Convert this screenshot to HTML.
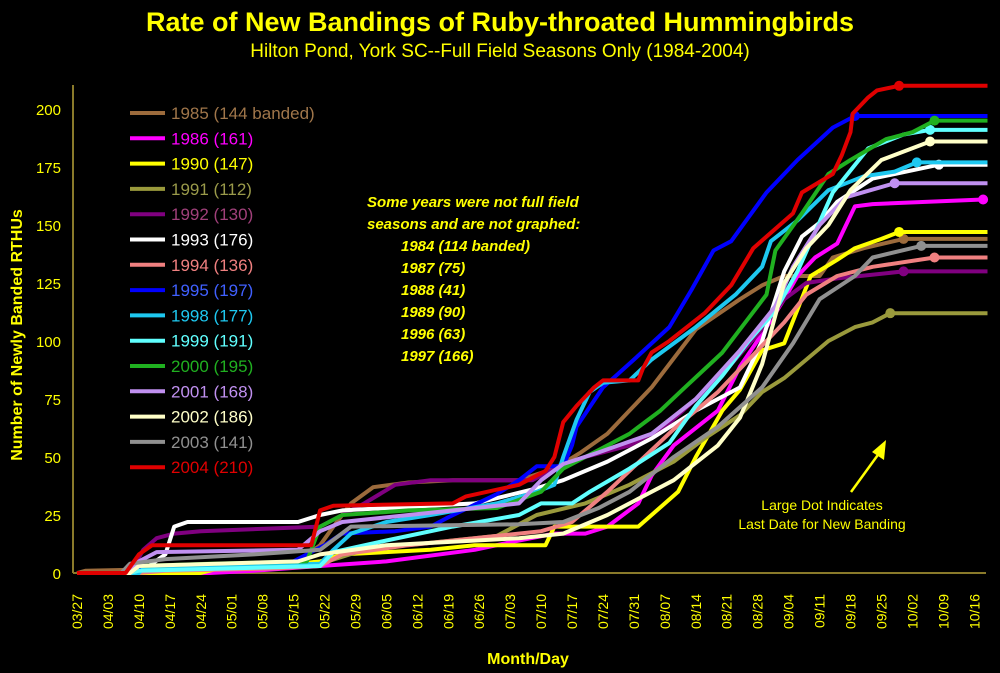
<!DOCTYPE html>
<html><head><meta charset="utf-8"><style>
html,body{margin:0;padding:0;background:#000;}
svg{display:block;font-family:"Comic Sans MS","Liberation Sans",sans-serif;}
</style></head><body>
<svg id="chart" width="1000" height="673" viewBox="0 0 1000 673" xmlns="http://www.w3.org/2000/svg">
<rect width="1000" height="673" fill="#000"/>
<text x="500" y="31" text-anchor="middle" fill="#ffff00" font-size="27" font-weight="bold">Rate of New Bandings of Ruby-throated Hummingbirds</text>
<text x="500" y="57" text-anchor="middle" fill="#ffff00" font-size="19">Hilton Pond, York SC--Full Field Seasons Only (1984-2004)</text>
<text transform="translate(22,335) rotate(-90)" text-anchor="middle" fill="#ffff00" font-size="16" font-weight="bold">Number of Newly Banded RTHUs</text>
<text x="528" y="664" text-anchor="middle" fill="#ffff00" font-size="16" font-weight="bold">Month/Day</text>
<g id="axes"></g>
<g id="series"></g>
<g id="legend"></g>
<g fill="#ffff00" font-size="15" font-weight="bold" font-style="italic">
<text x="367" y="207">Some years were not full field</text>
<text x="367" y="229">seasons and are not graphed:</text>
<text x="401" y="251">1984 (114 banded)</text>
<text x="401" y="273">1987 (75)</text>
<text x="401" y="295">1988 (41)</text>
<text x="401" y="317">1989 (90)</text>
<text x="401" y="339">1996 (63)</text>
<text x="401" y="361">1997 (166)</text>
</g>
<g>
<line x1="851" y1="492" x2="880" y2="452" stroke="#ffff00" stroke-width="2.5"/>
<polygon points="886,440 872,452 884,460" fill="#ffff00"/>
<text x="822" y="510" text-anchor="middle" fill="#ffff00" font-size="14">Large Dot Indicates</text>
<text x="822" y="529" text-anchor="middle" fill="#ffff00" font-size="14">Last Date for New Banding</text>
</g>
</svg>
<script>
const NS='http://www.w3.org/2000/svg';
const yTicks=[0,25,50,75,100,125,150,175,200];
const xTickLabels=['03/27','04/03','04/10','04/17','04/24','05/01','05/08','05/15','05/22','05/29','06/05','06/12','06/19','06/26','07/03','07/10','07/17','07/24','07/31','08/07','08/14','08/21','08/28','09/04','09/11','09/18','09/25','10/02','10/09','10/16'];
const seriesNames=['1985 (144 banded)','1986 (161)','1990 (147)','1991 (112)','1992 (130)','1993 (176)','1994 (136)','1995 (197)','1998 (177)','1999 (191)','2000 (195)','2001 (168)','2002 (186)','2003 (141)','2004 (210)'];
const s1985=[[0,0],[2,1],[30,2],[50,5],[55,12],[58,20],[62,30],[67,37],[75,39],[85,40],[100,40],[108,45],[114,52],[120,60],[130,80],[140,105],[150,118],[155,124],[160,128],[168,128],[171,136],[178,140],[187,144],[206,144]];
const s1986=[[0,0],[30,0],[40,1],[55,3],[70,5],[90,10],[100,14],[108,17],[115,17],[120,20],[127,30],[130,42],[135,55],[145,70],[150,89],[155,103],[160,118],[163,128],[167,136],[172,142],[176,158],[180,159],[205,161]];
const s1990=[[0,0],[28,0],[32,2],[45,3],[55,5],[60,8],[80,10],[90,12],[106,12],[108,20],[127,20],[130,25],[136,35],[140,50],[146,70],[150,79],[155,96],[160,99],[166,128],[172,135],[176,140],[182,144],[186,147],[206,147]];
const s1991=[[0,0],[12,0],[14,1],[40,2],[55,4],[65,10],[80,13],[95,16],[104,25],[115,30],[125,38],[135,48],[142,58],[150,68],[155,78],[160,84],[165,92],[170,100],[176,106],[180,108],[184,112],[206,112]];
const s1992=[[0,0],[12,0],[15,10],[18,15],[22,17],[28,18],[55,20],[65,30],[72,38],[80,40],[103,40],[108,45],[115,50],[125,55],[133,63],[140,75],[148,90],[155,105],[160,118],[165,125],[172,127],[187,130],[206,130]];
const s1993=[[0,0],[14,0],[20,8],[22,20],[25,22],[50,22],[55,25],[60,27],[90,30],[103,36],[110,40],[120,48],[130,58],[140,70],[150,80],[155,100],[160,130],[164,145],[168,151],[172,160],[180,170],[195,176],[206,176]];
const s1994=[[0,0],[14,0],[20,1],[45,2],[55,3],[60,8],[75,12],[95,16],[105,18],[112,22],[120,35],[135,62],[145,78],[152,92],[160,108],[165,120],[172,128],[180,132],[194,136],[206,136]];
const s1995=[[0,0],[13,0],[14,2],[35,3],[48,4],[52,8],[56,12],[60,17],[72,18],[80,20],[84,24],[95,34],[100,40],[104,46],[110,46],[112,55],[113,63],[119,80],[126,92],[134,106],[139,122],[144,139],[148,143],[156,164],[163,178],[171,192],[176,197],[206,197]];
const s1998=[[0,0],[14,0],[15,2],[55,4],[58,10],[62,17],[70,22],[80,25],[95,30],[104,35],[108,38],[110,50],[113,66],[116,78],[119,82],[125,83],[130,92],[140,106],[149,120],[155,132],[157,143],[163,152],[170,165],[178,171],[185,173],[190,177],[206,177]];
const s1999=[[0,0],[12,0],[14,1],[55,3],[58,9],[70,14],[85,20],[100,25],[105,30],[112,30],[116,35],[125,45],[134,56],[140,72],[146,85],[152,100],[158,113],[163,130],[171,164],[179,183],[187,189],[193,191],[206,191]];
const s2000=[[0,0],[12,0],[14,3],[30,4],[52,5],[55,20],[60,25],[75,27],[95,28],[105,35],[110,45],[115,50],[125,60],[132,70],[137,79],[146,95],[152,110],[156,120],[158,139],[164,155],[170,172],[175,178],[183,187],[189,190],[194,195],[206,195]];
const s2001=[[0,0],[12,0],[14,5],[18,9],[50,10],[55,18],[60,22],[80,26],[100,30],[105,40],[110,47],[118,52],[130,60],[140,75],[150,96],[158,115],[162,132],[168,150],[174,162],[185,168],[206,168]];
const s2002=[[0,0],[12,0],[14,3],[50,5],[55,8],[70,12],[100,15],[110,17],[120,25],[135,40],[145,55],[150,67],[155,90],[160,125],[165,140],[170,150],[175,165],[182,178],[193,186],[206,186]];
const s2003=[[0,0],[10,0],[12,4],[20,6],[40,8],[55,10],[62,20],[100,21],[110,22],[118,28],[125,35],[135,50],[145,63],[155,80],[162,99],[168,118],[176,128],[180,136],[191,141],[206,141]];
const s2004=[[0,0],[11,0],[14,8],[17,12],[53,12],[55,27],[58,29],[85,30],[88,33],[100,38],[106,44],[108,50],[110,65],[113,72],[117,80],[119,83],[127,83],[128,88],[130,95],[134,100],[142,112],[148,124],[153,140],[162,155],[164,164],[171,172],[173,180],[175,190],[175.5,198],[179,205],[181,208],[186,210],[206,210]];
const lastDays=[187,205,186,184,187,195,194,176,190,193,194,185,193,191,186];
const seriesData=[s1985,s1986,s1990,s1991,s1992,s1993,s1994,s1995,s1998,s1999,s2000,s2001,s2002,s2003,s2004];
const lineColors=['#9c6b3c','#ff00ff','#ffff00','#9a9a3c','#800080','#ffffff','#f08080','#0000ff','#1ec8f0','#60ffff','#20b020','#c090f0','#ffffc8','#909090','#e00000'];
const textColors=['#a0764a','#ff00ff','#ffff00','#9a9a4a','#a0407a','#ffffff','#f08080','#4060ff','#1ec8f0','#60ffff','#20b020','#c090f0','#ffffc8','#909090','#e00000'];

const X0=77,XS=4.42,Y0=573,YS=2.32;
const xs=d=>X0+XS*d, ys=v=>Y0-YS*v;
function mk(tag,attrs,parent){const e=document.createElementNS(NS,tag);for(const k in attrs)e.setAttribute(k,attrs[k]);parent.appendChild(e);return e;}
const axes=document.getElementById('axes');
let l=mk('line',{x1:73,y1:85,x2:73,y2:Y0,stroke:'#8a7a2a','stroke-width':2},axes);


l=mk('line',{x1:73,y1:Y0,x2:986,y2:Y0,stroke:'#8a7a2a','stroke-width':2},axes);


yTicks.forEach(v=>{const t=mk('text',{x:61,y:ys(v)+6,'text-anchor':'end',fill:'#ffff00','font-size':15},axes);t.textContent=v;

});
xTickLabels.forEach((s,i)=>{const x=xs(i*7);const t=mk('text',{transform:`translate(${x+5},594) rotate(-90)`,'text-anchor':'end',fill:'#ffff00','font-size':14},axes);t.textContent=s;

});
const sg=document.getElementById('series');
seriesData.forEach((pts,i)=>{
 const p=mk('polyline',{points:pts.map(q=>xs(q[0]).toFixed(1)+','+ys(q[1]).toFixed(1)).join(' '),fill:'none',stroke:lineColors[i],'stroke-width':4,'stroke-linejoin':'round'},sg);
 
 
 const ld=lastDays[i];let v=pts[pts.length-1][1];
 for(let k=1;k<pts.length;k++){if(pts[k][0]>=ld){const a=pts[k-1],b=pts[k];v=a[1]+(b[1]-a[1])*(ld-a[0])/((b[0]-a[0])||1);break;}}
 const c=mk('circle',{cx:xs(ld),cy:ys(v),r:5,fill:lineColors[i]},sg);
 
 
});
const lg=document.getElementById('legend');
seriesNames.forEach((n,i)=>{const y=113+25.3*i;
 const ln=mk('line',{x1:130,y1:y,x2:165,y2:y,stroke:lineColors[i],'stroke-width':4},lg);
 
 
 const t=mk('text',{x:171,y:y+6,fill:textColors[i],'font-size':17},lg);t.textContent=n;
 
 
});
</script>
</body></html>
